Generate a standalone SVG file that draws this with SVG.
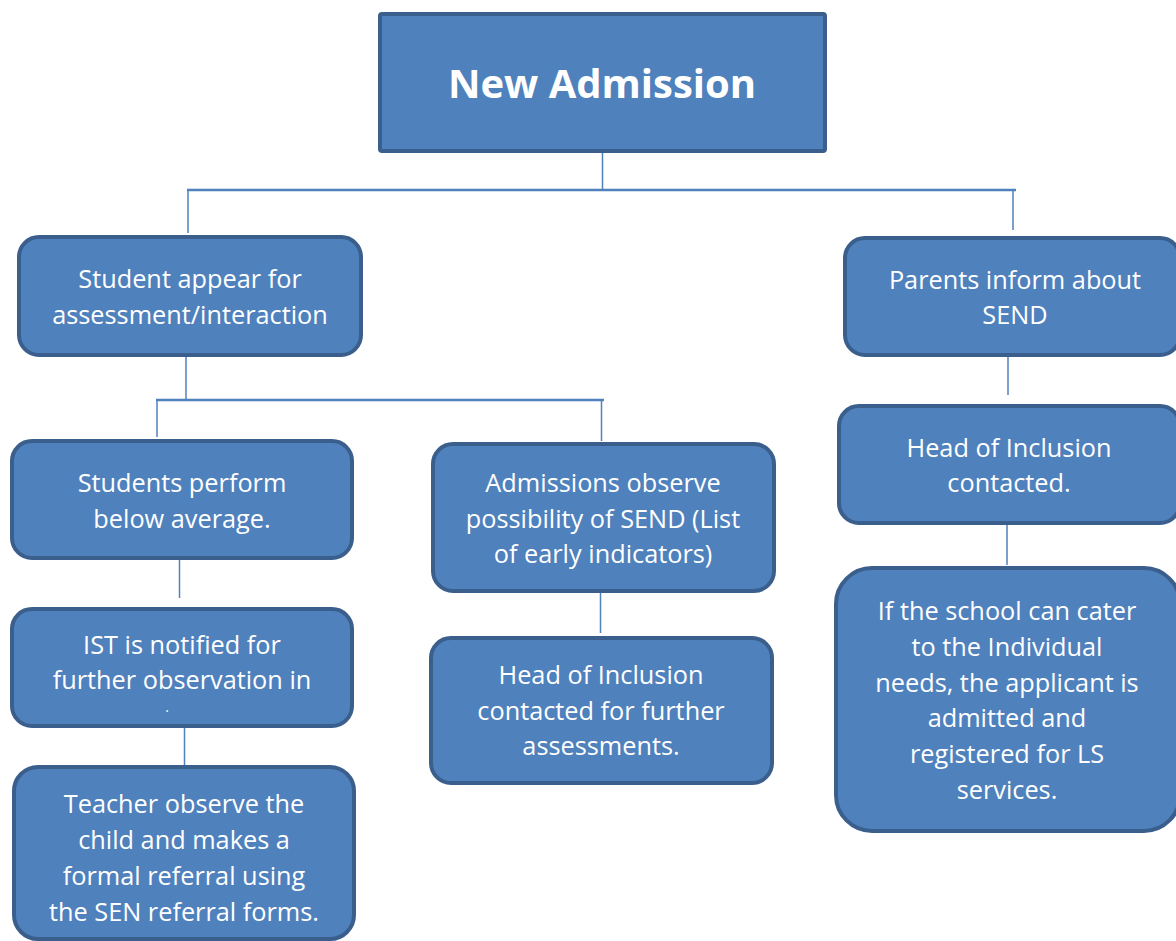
<svg xmlns="http://www.w3.org/2000/svg" width="1176" height="941" viewBox="0 0 1176 941">
<style>
.box{fill:#4F81BD;stroke:#3B5F8C;stroke-width:4}
.t{font-family:"Open Sans","Liberation Sans",sans-serif;font-size:25.3px;fill:#FFFFFF;text-anchor:middle}
.title{font-family:"Open Sans","Liberation Sans",sans-serif;font-size:40px;font-weight:bold;fill:#FFFFFF;text-anchor:middle}
.c{stroke:#4F81BD;fill:none}
</style>
<rect width="1176" height="941" fill="#FFFFFF"/>
<g id="connectors">
<line class="c" x1="602.5" y1="152" x2="602.5" y2="190" stroke-width="1.5"/>
<line class="c" x1="187" y1="190" x2="1016" y2="190" stroke-width="2.5"/>
<line class="c" x1="188" y1="190" x2="188" y2="233" stroke-width="1.5"/>
<line class="c" x1="1013" y1="190" x2="1013" y2="230" stroke-width="1.5"/>
<line class="c" x1="186" y1="357" x2="186" y2="400" stroke-width="1.5"/>
<line class="c" x1="156" y1="400" x2="604" y2="400" stroke-width="2.5"/>
<line class="c" x1="157" y1="400" x2="157" y2="437" stroke-width="1.5"/>
<line class="c" x1="601.5" y1="400" x2="601.5" y2="441" stroke-width="1.5"/>
<line class="c" x1="179.5" y1="560" x2="179.5" y2="598" stroke-width="1.5"/>
<line class="c" x1="184.5" y1="728" x2="184.5" y2="767" stroke-width="1.5"/>
<line class="c" x1="600.5" y1="593" x2="600.5" y2="633" stroke-width="1.5"/>
<line class="c" x1="1008" y1="357" x2="1008" y2="395" stroke-width="1.5"/>
<line class="c" x1="1007" y1="525" x2="1007" y2="565" stroke-width="1.5"/>
</g>
<g id="new-admission">
<rect class="box" x="380" y="14" width="445" height="137" rx="2"/>
<text class="title" x="602" y="98">New Admission</text>
</g>
<g id="student-appear">
<rect class="box" x="19" y="237" width="342" height="118" rx="20"/>
<text class="t" x="190" y="288">Student appear for</text>
<text class="t" x="190" y="324">assessment/interaction</text>
</g>
<g id="students-perform">
<rect class="box" x="12" y="441" width="340" height="117" rx="20"/>
<text class="t" x="182" y="492">Students perform</text>
<text class="t" x="182" y="528">below average.</text>
</g>
<g id="ist-notified">
<rect class="box" x="12" y="609" width="340" height="117" rx="20"/>
<text class="t" x="182" y="654">IST is notified for</text>
<text class="t" x="182" y="689">further observation in</text>
<text class="t" x="167" y="712" style="font-size:14px">.</text>
</g>
<g id="teacher-observe">
<rect class="box" x="14" y="767" width="340" height="172" rx="24"/>
<text class="t" x="184" y="813">Teacher observe the</text>
<text class="t" x="184" y="849">child and makes a</text>
<text class="t" x="184" y="885">formal referral using</text>
<text class="t" x="184" y="921">the SEN referral forms.</text>
</g>
<g id="admissions-observe">
<rect class="box" x="433" y="444" width="341" height="147" rx="20"/>
<text class="t" x="603" y="492">Admissions observe</text>
<text class="t" x="603" y="528">possibility of SEND (List</text>
<text class="t" x="603" y="563">of early indicators)</text>
</g>
<g id="head-inclusion-further">
<rect class="box" x="431" y="638" width="341" height="145" rx="20"/>
<text class="t" x="601" y="684">Head of Inclusion</text>
<text class="t" x="601" y="720">contacted for further</text>
<text class="t" x="601" y="755">assessments.</text>
</g>
<g id="parents-inform">
<rect class="box" x="845" y="238" width="335" height="117" rx="20"/>
<text class="t" x="1015" y="289">Parents inform about</text>
<text class="t" x="1015" y="324">SEND</text>
</g>
<g id="head-inclusion-contacted">
<rect class="box" x="839" y="406" width="341" height="117" rx="20"/>
<text class="t" x="1009" y="457">Head of Inclusion</text>
<text class="t" x="1009" y="492">contacted.</text>
</g>
<g id="school-cater">
<rect class="box" x="836" y="568" width="344" height="263" rx="36"/>
<text class="t" x="1007" y="620">If the school can cater</text>
<text class="t" x="1007" y="656">to the Individual</text>
<text class="t" x="1007" y="692">needs, the applicant is</text>
<text class="t" x="1007" y="727">admitted and</text>
<text class="t" x="1007" y="763">registered for LS</text>
<text class="t" x="1007" y="799">services.</text>
</g>
</svg>
